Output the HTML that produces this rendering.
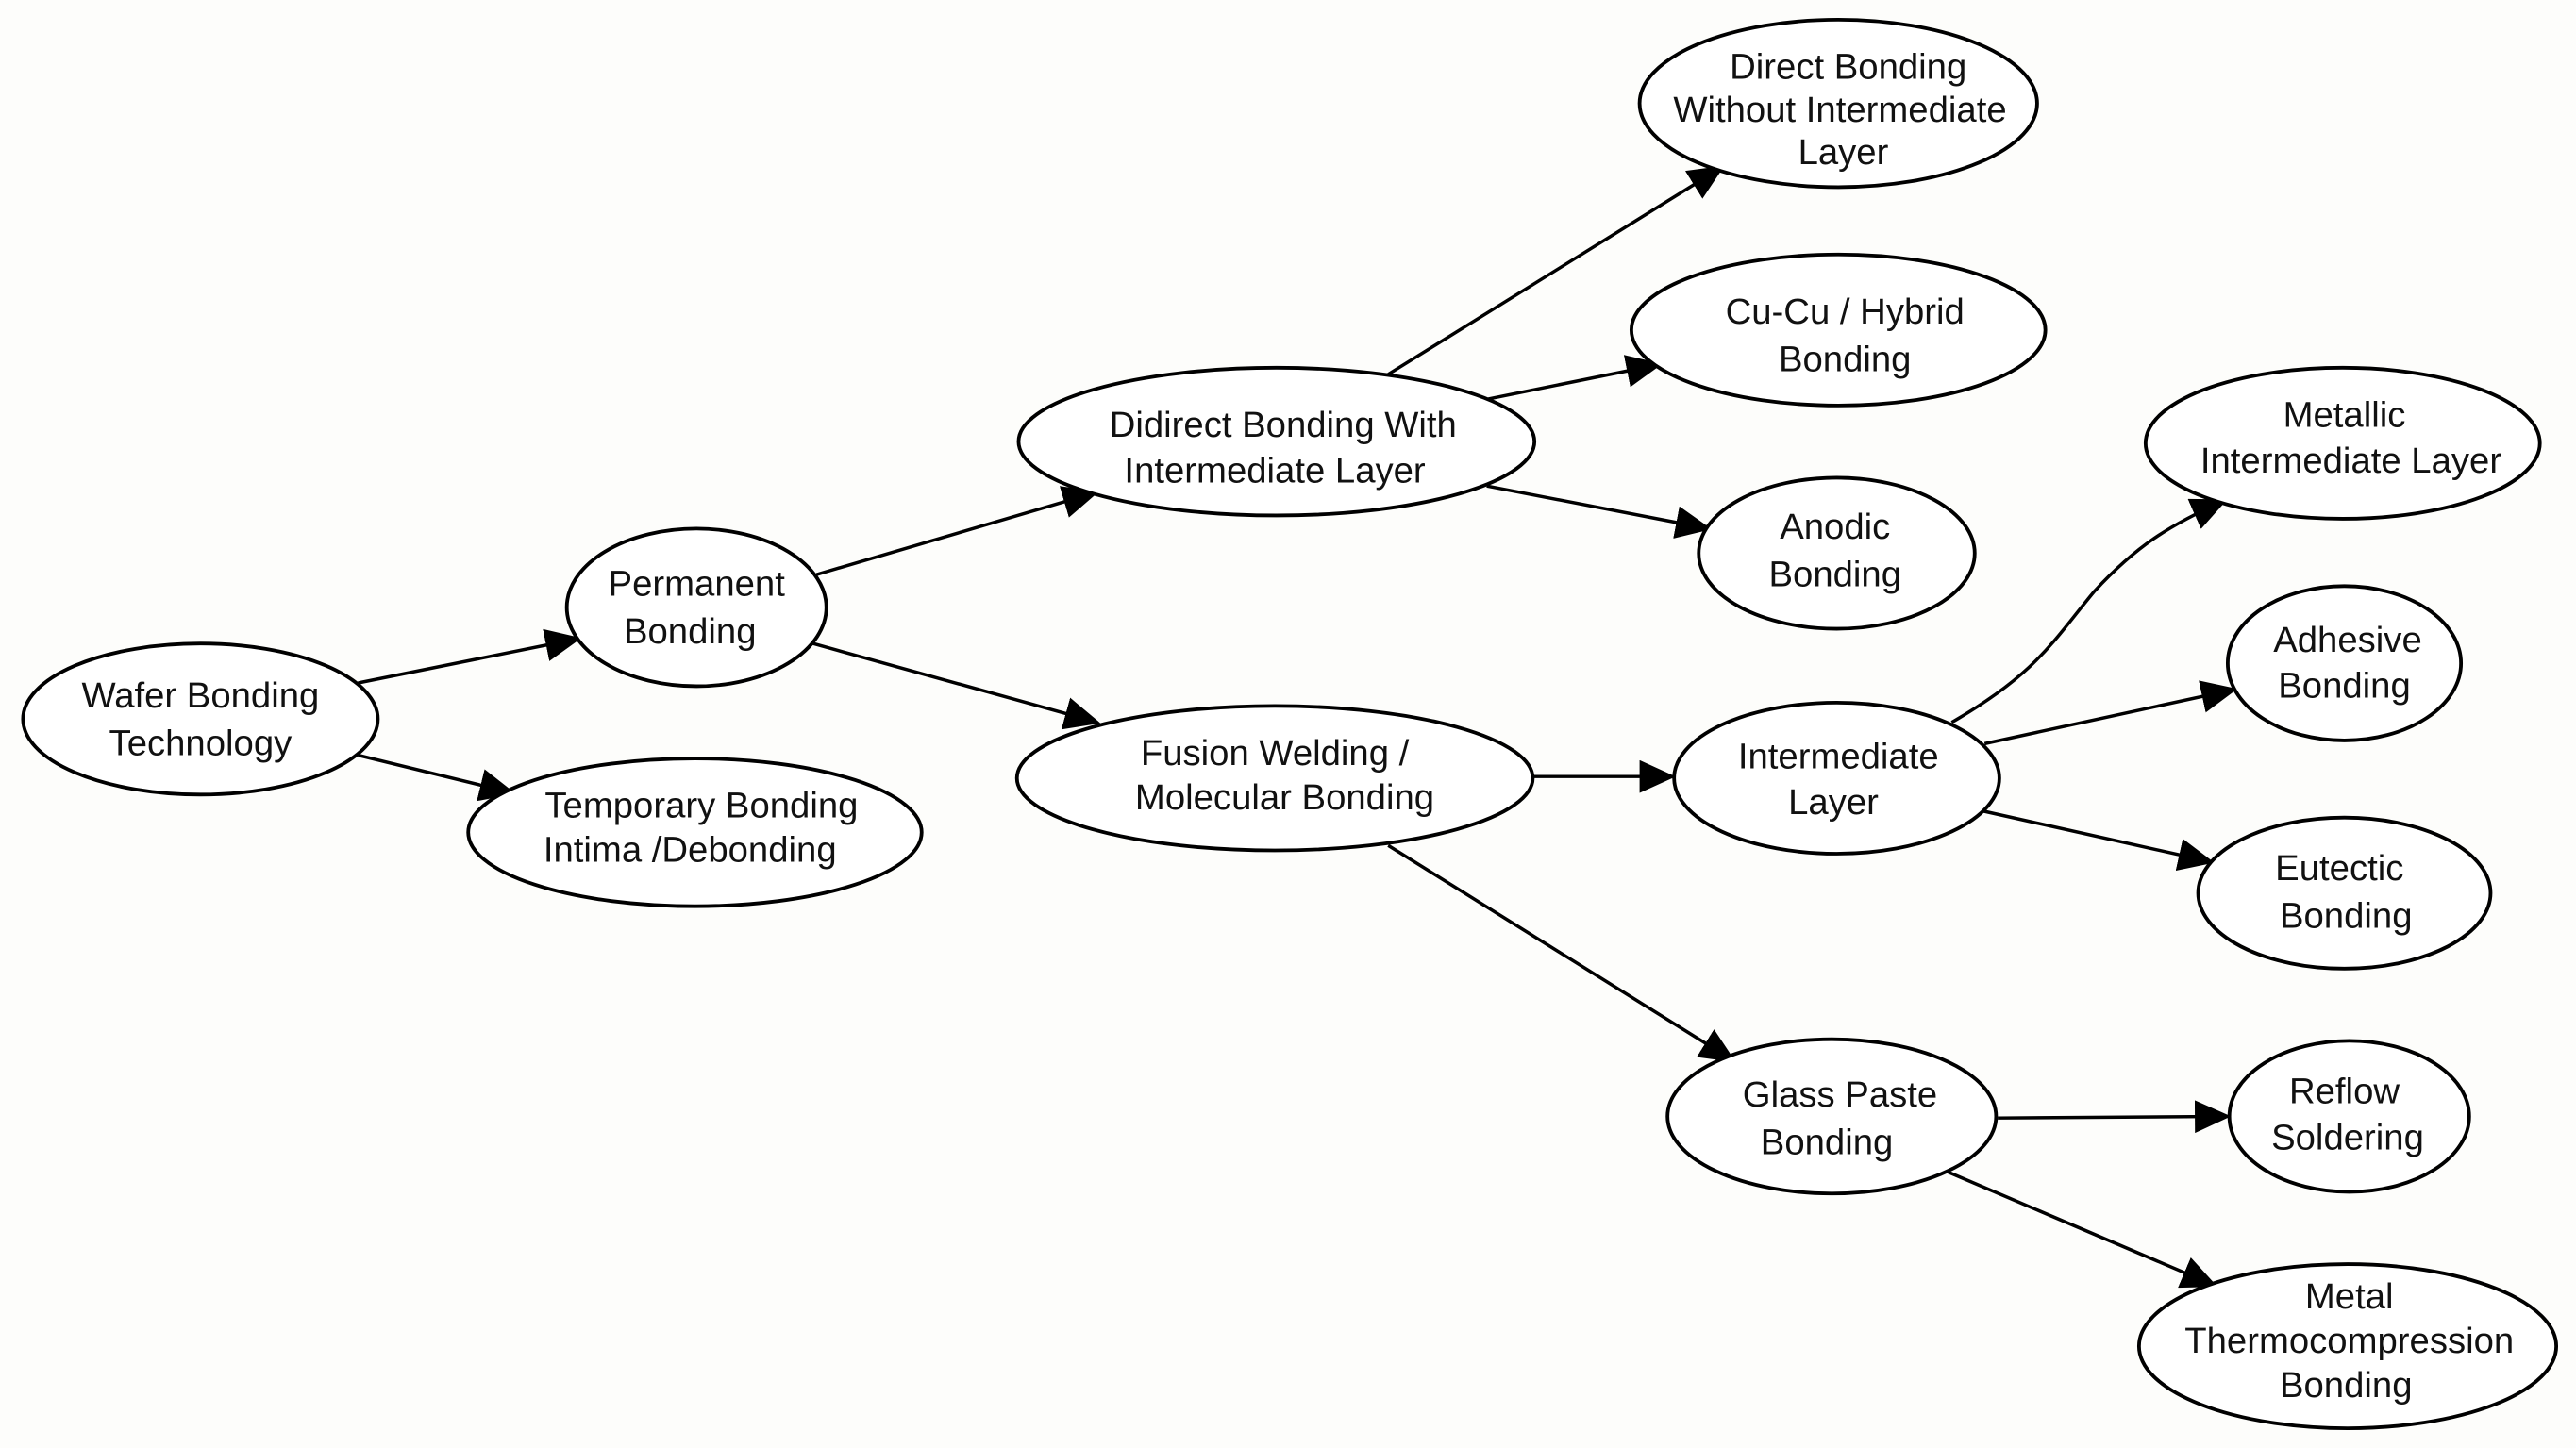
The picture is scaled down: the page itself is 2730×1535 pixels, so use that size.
<!DOCTYPE html>
<html><head><meta charset="utf-8"><style>
html,body{margin:0;padding:0;background:#fdfdfb;}
svg{display:block;}
text{font-family:"Liberation Sans",sans-serif;font-size:22px;fill:#111;text-anchor:middle;}
</style></head><body>
<svg width="2730" height="1535" viewBox="0 0 1568 882" preserveAspectRatio="none" xmlns="http://www.w3.org/2000/svg">
<defs><marker id="a" markerWidth="10" markerHeight="10" refX="9" refY="5" orient="auto" markerUnits="userSpaceOnUse" viewBox="0 0 10 10">
<path d="M0,0 L10,5 L0,10 z" fill="#000"/></marker>
<marker id="b" markerWidth="22" markerHeight="20" refX="20" refY="10" orient="auto" markerUnits="userSpaceOnUse" viewBox="0 0 22 20"><path d="M0,0 L22,10 L0,20 z" fill="#000"/></marker></defs>
<rect width="1568" height="882" fill="#fdfdfb"/>
<g stroke="#000" stroke-width="2" fill="none" marker-end="url(#b)">
<line x1="218" y1="416" x2="352" y2="389"/>
<line x1="218" y1="460" x2="312" y2="483"/>
<line x1="497" y1="350" x2="667" y2="300"/>
<line x1="495" y1="392" x2="668" y2="440"/>
<line x1="845" y1="228" x2="1048" y2="102"/>
<line x1="906" y1="243" x2="1010" y2="222"/>
<line x1="905" y1="296" x2="1040" y2="322"/>
<line x1="933" y1="473" x2="1018" y2="473"/>
<line x1="845" y1="515" x2="1055" y2="646"/>
<path d="M1188,440 C1240,410 1250,390 1275,360 C1300,333 1320,320 1354,305"/>
<line x1="1208" y1="453" x2="1360" y2="420"/>
<line x1="1207" y1="494" x2="1346" y2="525"/>
<line x1="1216" y1="681" x2="1356" y2="680"/>
<line x1="1186" y1="714" x2="1348" y2="783"/>
</g>
<g stroke="#000" stroke-width="2.2" fill="#fff">
<ellipse cx="122" cy="438" rx="108" ry="46"/>
<ellipse cx="424" cy="370" rx="79" ry="48"/>
<ellipse cx="423" cy="507" rx="138" ry="45"/>
<ellipse cx="777" cy="269" rx="157" ry="45"/>
<ellipse cx="776" cy="474" rx="157" ry="44"/>
<ellipse cx="1119" cy="63" rx="121" ry="51"/>
<ellipse cx="1119" cy="201" rx="126" ry="46"/>
<ellipse cx="1118" cy="337" rx="84" ry="46"/>
<ellipse cx="1118" cy="474" rx="99" ry="46"/>
<ellipse cx="1115" cy="680" rx="100" ry="47"/>
<ellipse cx="1426" cy="270" rx="120" ry="46"/>
<ellipse cx="1427" cy="404" rx="71" ry="47"/>
<ellipse cx="1427" cy="544" rx="89" ry="46"/>
<ellipse cx="1430" cy="680" rx="73" ry="46"/>
<ellipse cx="1429" cy="820" rx="127" ry="50"/>
</g>
<text x="122" y="431">Wafer Bonding</text><text x="122" y="460">Technology</text>
<text x="424" y="363">Permanent</text><text x="420" y="392">Bonding</text>
<text x="427" y="498">Temporary Bonding</text><text x="420" y="525">Intima /Debonding</text>
<text x="781" y="266">Didirect Bonding With</text><text x="776" y="294">Intermediate Layer</text>
<text x="776" y="466">Fusion Welding /</text><text x="782" y="493">Molecular Bonding</text>
<text x="1125" y="48">Direct Bonding</text><text x="1120" y="74">Without Intermediate</text><text x="1122" y="100">Layer</text>
<text x="1123" y="197">Cu-Cu / Hybrid</text><text x="1123" y="226">Bonding</text>
<text x="1117" y="328">Anodic</text><text x="1117" y="357">Bonding</text>
<text x="1119" y="468">Intermediate</text><text x="1116" y="496">Layer</text>
<text x="1120" y="674">Glass Paste</text><text x="1112" y="703">Bonding</text>
<text x="1427" y="260">Metallic</text><text x="1431" y="288">Intermediate Layer</text>
<text x="1429" y="397">Adhesive</text><text x="1427" y="425">Bonding</text>
<text x="1424" y="536">Eutectic</text><text x="1428" y="565">Bonding</text>
<text x="1427" y="672">Reflow</text><text x="1429" y="700">Soldering</text>
<text x="1430" y="797">Metal</text><text x="1430" y="824">Thermocompression</text><text x="1428" y="851">Bonding</text>
</svg>
</body></html>
